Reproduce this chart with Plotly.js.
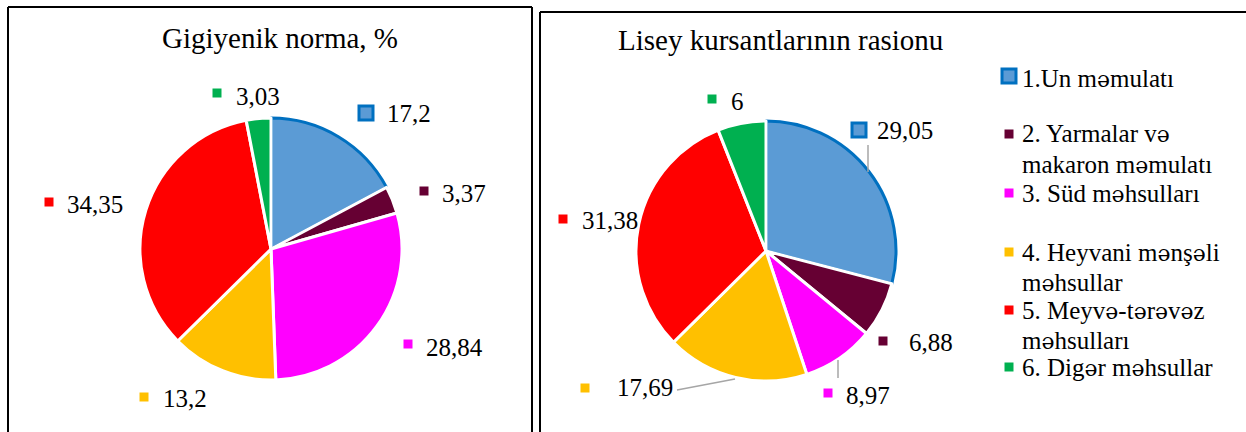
<!DOCTYPE html>
<html>
<head>
<meta charset="utf-8">
<script src="https://cdn.plot.ly/plotly-3.0.1.min.js"></script>
<style>html,body{margin:0;padding:0;background:#fff;}#chart{width:1246px;height:432px;}</style>
</head>
<body>
<div id="chart"></div>
<script>
// ---- data ----
const categories = ['1.Un məmulatı', '2. Yarmalar və makaron məmulatı', '3. Süd məhsulları', '4. Heyvani mənşəli məhsullar', '5. Meyvə-tərəvəz məhsulları', '6. Digər məhsullar'];
const legendLabels = ['1.Un məmulatı', '2. Yarmalar və<br>makaron məmulatı', '3. Süd məhsulları', '4. Heyvani mənşəli<br>məhsullar', '5. Meyvə-tərəvəz<br>məhsulları', '6. Digər məhsullar'];
const normValues = [17.2, 3.37, 28.84, 13.2, 34.35, 3.03];
const rationValues = [29.05, 6.88, 8.97, 17.69, 31.38, 6];
const titleLeft = 'Gigiyenik norma, %';
const titleRight = 'Lisey kursantlarının rasionu';

// ---- styles / layout ----
const colors = ['#5B9BD5', '#660033', '#FF00FF', '#FFC000', '#FF0000', '#00B050'];
const outlineBlue = '#0070C0';
const FONT = 'Liberation Serif';
const W = 1246, H = 432;
const px = x => x / W;
const py = y => 1 - y / H;

// label placement (pixels): square centre, text start
const leftLabelPos = [
  {sx: 366, sy: 113, tx: 385, ty: 114},
  {sx: 424, sy: 191, tx: 440, ty: 193},
  {sx: 408, sy: 344, tx: 424, ty: 347},
  {sx: 144, sy: 397, tx: 161, ty: 398},
  {sx: 49,  sy: 202, tx: 65,  ty: 205},
  {sx: 217, sy: 93,  tx: 234, ty: 96}
];
const rightLabelPos = [
  {sx: 859, sy: 130, tx: 875, ty: 130},
  {sx: 883, sy: 341, tx: 907, ty: 342},
  {sx: 828, sy: 393, tx: 844, ty: 395},
  {sx: 585, sy: 388, tx: 615, ty: 387},
  {sx: 563, sy: 219, tx: 580, ty: 220},
  {sx: 712, sy: 99,  tx: 729, ty: 101}
];
const legendX = 1020, legendSqX = 1009;
const legendY = [78, 134, 193, 252, 310, 367];
const legendLineGap = 30;

const fmt = v => String(v).replace('.', ',');
// Liberation Serif has no schwa glyph: draw it with a serif fallback
const serifSchwa = s => s.replace(/ə/g, "<span style=\"font-family:'DejaVu Serif';font-size:22px\">ə</span>");

function pieTrace(values, cx, cy, r) {
  return {
    type: 'pie',
    values: values,
    labels: categories,
    sort: false,
    direction: 'clockwise',
    rotation: 0,
    textinfo: 'none',
    hoverinfo: 'none',
    showlegend: false,
    marker: {
      colors: colors,
      line: {color: [outlineBlue, '#fff', '#fff', '#fff', '#fff', '#fff'], width: [3, 3, 3, 3, 3, 3]}
    },
    domain: {x: [px(cx - r), px(cx + r)], y: [py(cy + r), py(cy - r)]}
  };
}

const data = [
  pieTrace(normValues, 271, 249, 131),
  pieTrace(rationValues, 766, 251, 130)
];

const shapes = [];
const annotations = [];

function sq(cx, cy, i, big) {
  const s = big ? 7 : 4.5;
  shapes.push({
    type: 'rect', xref: 'paper', yref: 'paper',
    x0: px(cx - s), x1: px(cx + s), y0: py(cy + s), y1: py(cy - s),
    fillcolor: colors[i],
    line: big ? {color: outlineBlue, width: 3} : {width: 0}
  });
}
function txt(x, y, text, size) {
  annotations.push({
    xref: 'paper', yref: 'paper', x: px(x), y: py(y),
    xanchor: 'left', yanchor: 'middle', showarrow: false,
    text: text, font: {family: FONT, size: size || 25, color: '#000'}
  });
}

// panel borders
shapes.push({type: 'line', xref: 'paper', yref: 'paper', x0: px(8), x1: px(8), y0: py(7), y1: py(440), line: {color: '#000', width: 2}});
shapes.push({type: 'line', xref: 'paper', yref: 'paper', x0: px(8), x1: px(532), y0: py(7), y1: py(7), line: {color: '#000', width: 2}});
shapes.push({type: 'line', xref: 'paper', yref: 'paper', x0: px(532), x1: px(532), y0: py(7), y1: py(440), line: {color: '#000', width: 2}});
shapes.push({type: 'line', xref: 'paper', yref: 'paper', x0: px(540), x1: px(540), y0: py(12), y1: py(440), line: {color: '#000', width: 2}});
shapes.push({type: 'line', xref: 'paper', yref: 'paper', x0: px(540), x1: px(1250), y0: py(12), y1: py(12), line: {color: '#000', width: 2}});

// leader lines (right chart)
const leaderColor = '#A6A6A6';
shapes.push({type: 'line', xref: 'paper', yref: 'paper', x0: px(868), x1: px(868), y0: py(145), y1: py(172), line: {color: leaderColor, width: 1.5}});
shapes.push({type: 'line', xref: 'paper', yref: 'paper', x0: px(838), x1: px(838), y0: py(360), y1: py(378), line: {color: leaderColor, width: 1.5}});
shapes.push({type: 'line', xref: 'paper', yref: 'paper', x0: px(677), x1: px(735), y0: py(390), y1: py(379), line: {color: leaderColor, width: 1.5}});

// data labels
normValues.forEach((v, i) => {
  const p = leftLabelPos[i];
  sq(p.sx, p.sy, i, i === 0);
  txt(p.tx, p.ty, fmt(v));
});
rationValues.forEach((v, i) => {
  const p = rightLabelPos[i];
  sq(p.sx, p.sy, i, i === 0);
  txt(p.tx, p.ty, fmt(v));
});

// legend
legendLabels.forEach((lab, i) => {
  sq(legendSqX, i === 0 ? legendY[i] - 2 : legendY[i], i, i === 0);
  lab.split('<br>').forEach((line, k) => {
    txt(legendX, legendY[i] + k * legendLineGap, serifSchwa(line));
  });
});

// right title
annotations.push({
  xref: 'paper', yref: 'paper', x: px(781), y: py(40),
  xanchor: 'center', yanchor: 'middle', showarrow: false,
  text: titleRight, font: {family: FONT, size: 29, color: '#000'}
});

const layout = {
  width: W, height: H,
  margin: {l: 0, r: 0, t: 0, b: 0},
  paper_bgcolor: '#fff',
  plot_bgcolor: '#fff',
  showlegend: false,
  font: {family: FONT},
  title: {
    text: titleLeft, x: px(280), y: py(38), xref: 'paper', yref: 'container',
    xanchor: 'center', yanchor: 'middle',
    font: {family: FONT, size: 29, color: '#000'}
  },
  shapes: shapes,
  annotations: annotations
};

Plotly.newPlot('chart', data, layout, {displayModeBar: false, staticPlot: true});
</script>
</body>
</html>
